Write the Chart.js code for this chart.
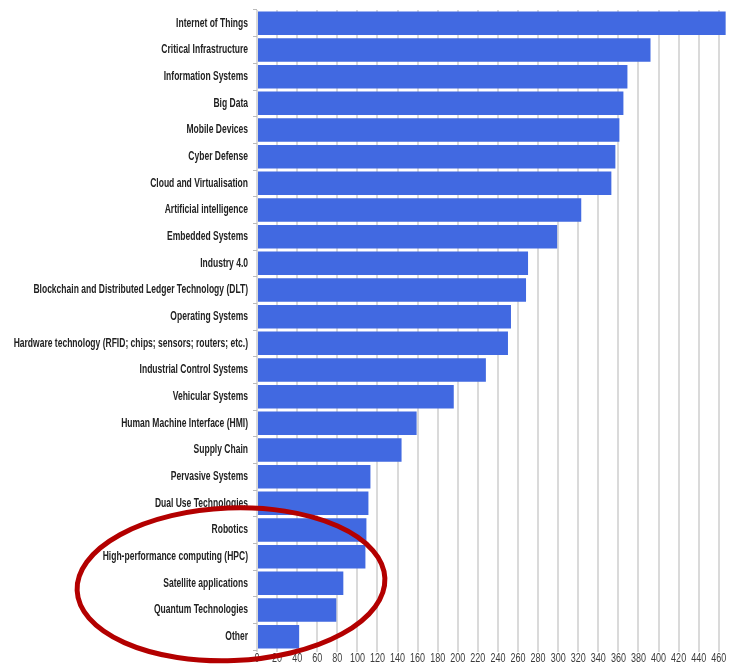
<!DOCTYPE html>
<html>
<head>
<meta charset="utf-8">
<script src="https://cdn.jsdelivr.net/npm/chart.js@4/dist/chart.umd.min.js"></script>
<style>
html,body{margin:0;padding:0;background:#fff;}
#wrap{width:730px;height:666px;position:relative;}
</style>
</head>
<body>
<div id="wrap"><canvas id="c" width="730" height="666"></canvas></div>
<script>
const categories = [
  "Internet of Things",
  "Critical Infrastructure",
  "Information Systems",
  "Big Data",
  "Mobile Devices",
  "Cyber Defense",
  "Cloud and Virtualisation",
  "Artificial intelligence",
  "Embedded Systems",
  "Industry 4.0",
  "Blockchain and Distributed Ledger Technology (DLT)",
  "Operating Systems",
  "Hardware technology (RFID; chips; sensors; routers; etc.)",
  "Industrial Control Systems",
  "Vehicular Systems",
  "Human Machine Interface (HMI)",
  "Supply Chain",
  "Pervasive Systems",
  "Dual Use Technologies",
  "Robotics",
  "High-performance computing (HPC)",
  "Satellite applications",
  "Quantum Technologies",
  "Other"
];
const counts = [467, 392, 369, 365, 361, 357, 353, 323, 299, 270, 268, 253, 250, 228, 196, 159, 144, 113, 111, 109, 108, 86, 79, 42];
const xTickValues = [0, 20, 40, 60, 80, 100, 120, 140, 160, 180, 200, 220, 240, 260, 280, 300, 320, 340, 360, 380, 400, 420, 440, 460];
const highlighted = ["Robotics", "High-performance computing (HPC)", "Satellite applications", "Quantum Technologies", "Other"];

const FONT = '"Liberation Sans", Arial, sans-serif';
const NARROW_CAT = 0.71;
const NARROW_VAL = 0.75;

const labelPlugin = {
  id: 'narrowLabels',
  afterDraw(chart) {
    const ctx = chart.ctx;
    const y = chart.scales.y, x = chart.scales.x;
    ctx.save();
    ctx.font = 'bold 12px ' + FONT;
    ctx.fillStyle = '#222222';
    ctx.textAlign = 'right';
    ctx.textBaseline = 'middle';
    y.ticks.forEach((t, i) => {
      const py = y.getPixelForTick(i);
      ctx.save();
      ctx.translate(y.right - 9, py);
      ctx.scale(NARROW_CAT, 1);
      ctx.fillText(categories[t.value], 0, 0);
      ctx.restore();
    });
    ctx.font = '12px ' + FONT;
    ctx.fillStyle = '#3c3c3c';
    ctx.textAlign = 'center';
    ctx.textBaseline = 'middle';
    xTickValues.forEach(v => {
      const px = x.getPixelForValue(v);
      ctx.save();
      ctx.translate(px, chart.chartArea.bottom + 9);
      ctx.scale(NARROW_VAL, 1);
      ctx.fillText(String(v), 0, 0);
      ctx.restore();
    });
    ctx.restore();
  }
};

const ellipsePlugin = {
  id: 'ellipse',
  afterDraw(chart) {
    const ctx = chart.ctx;
    const y = chart.scales.y, x = chart.scales.x;
    const iTop = categories.indexOf(highlighted[0]);
    const iBot = categories.indexOf(highlighted[highlighted.length - 1]);
    const yTop = y.getPixelForValue(iTop) - 22;
    const yBot = y.getPixelForValue(iBot) + 24;
    const cx = x.getPixelForValue(0) - 26;
    const cy = (yTop + yBot) / 2;
    ctx.save();
    ctx.beginPath();
    ctx.ellipse(cx, cy, 154, (yBot - yTop) / 2, -0.04, 0, Math.PI * 2);
    ctx.lineWidth = 5;
    ctx.strokeStyle = '#b30000';
    ctx.stroke();
    ctx.restore();
  }
};

new Chart(document.getElementById('c'), {
  type: 'bar',
  data: {
    labels: categories,
    datasets: [{
      data: counts,
      backgroundColor: '#4169e1',
      borderWidth: 0,
      barPercentage: 0.88,
      categoryPercentage: 1.0
    }]
  },
  options: {
    indexAxis: 'y',
    responsive: false,
    animation: false,
    layout: { padding: { top: 10, right: 3, left: 0, bottom: 0 } },
    plugins: { legend: { display: false }, tooltip: { enabled: false } },
    scales: {
      x: {
        min: 0,
        max: 467,
        afterBuildTicks: s => { s.ticks = xTickValues.map(v => ({ value: v })); },
        afterFit: s => { s.height = 16; },
        ticks: { color: 'rgba(0,0,0,0)', font: { size: 11 }, padding: 2, maxRotation: 0, autoSkip: false },
        grid: { color: '#dadada', lineWidth: 2, tickLength: 2 },
        border: { display: false }
      },
      y: {
        afterFit: s => { s.width = 257; },
        ticks: { color: 'rgba(0,0,0,0)', font: { size: 11 }, padding: 3, autoSkip: false },
        grid: { display: true, drawOnChartArea: false, color: '#bbb', tickLength: 4 },
        border: { display: false }
      }
    }
  },
  plugins: [labelPlugin, ellipsePlugin]
});
</script>
</body>
</html>
